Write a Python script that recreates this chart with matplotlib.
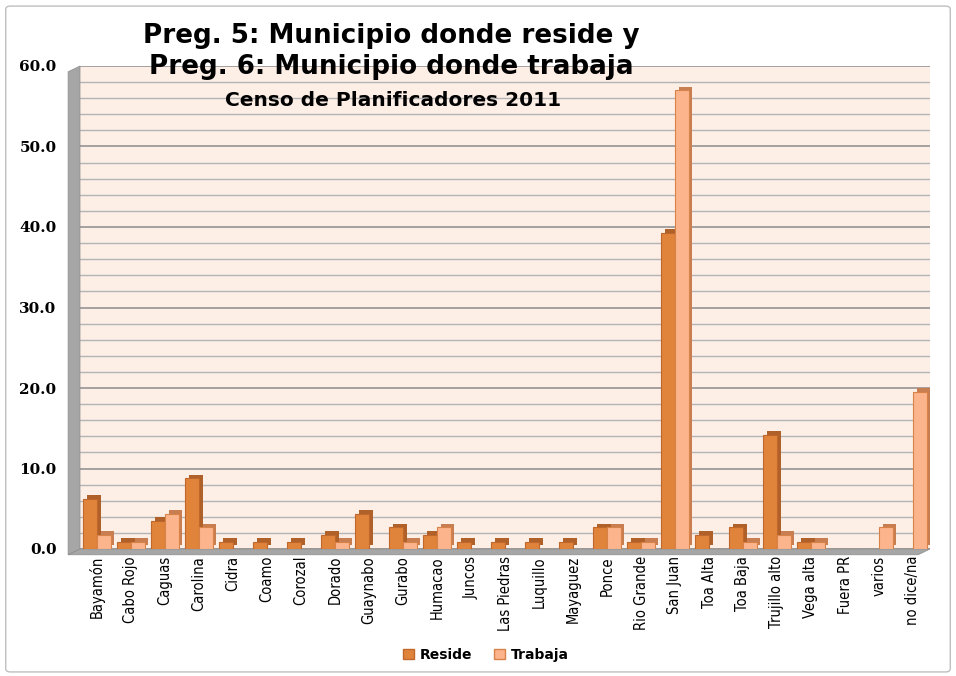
import matplotlib
matplotlib.use('Agg')
import matplotlib.pyplot as plt
from matplotlib.patches import Polygon, Patch, FancyBboxPatch
import numpy as np

# municipios (eje x)
municipios = ['Bayamón', 'Cabo Rojo', 'Caguas', 'Carolina', 'Cidra', 'Coamo',
              'Corozal', 'Dorado', 'Guaynabo', 'Gurabo', 'Humacao', 'Juncos',
              'Las Piedras', 'Luquillo', 'Mayaguez', 'Ponce', 'Rio Grande',
              'San Juan', 'Toa Alta', 'Toa Baja', 'Trujillo alto', 'Vega alta',
              'Fuera PR', 'varios', 'no dice/na']

# porcientos
reside = [6.2, 0.9, 3.5, 8.8, 0.9, 0.9, 0.9, 1.8, 4.4, 2.7, 1.8, 0.9, 0.9,
          0.9, 0.9, 2.7, 0.9, 39.3, 1.8, 2.7, 14.2, 0.9, 0.0, 0.0, 0.0]
trabaja = [1.8, 0.9, 4.4, 2.7, 0.0, 0.0, 0.0, 0.9, 0.0, 0.9, 2.7, 0.0, 0.0,
           0.0, 0.0, 2.7, 0.9, 57.0, 0.0, 0.9, 1.8, 0.9, 0.0, 2.7, 19.5]

yticks = [0, 10, 20, 30, 40, 50, 60]

fig = plt.figure(figsize=(9.56, 6.76), dpi=100)
fig.patch.set_facecolor('white')
# borde exterior
fig.patches.append(FancyBboxPatch((0.006, 0.006), 0.988, 0.985,
                                  boxstyle='round,pad=0,rounding_size=0.005',
                                  transform=fig.transFigure, fill=False,
                                  edgecolor='#BFBFBF', linewidth=1))

ax = fig.add_axes([80 / 956, 1 - 549 / 676, 850 / 956, 483 / 676])
ax.set_facecolor('#FDEEE6')

x = np.arange(len(municipios))
w = 0.4
dx, dy = 0.11, 0.45

# cara lateral (efecto 3D) y cara frontal
ax.bar(x - w / 2 + dx, reside, w, bottom=dy, color='#B0612A', zorder=2)
ax.bar(x - w / 2, reside, w, color='#E0833B', edgecolor='#C0682C',
       linewidth=0.8, zorder=3)
ax.bar(x + w / 2 + dx, trabaja, w, bottom=dy, color='#C97E52', zorder=4)
ax.bar(x + w / 2, trabaja, w, color='#FBB48C', edgecolor='#D98248',
       linewidth=0.8, zorder=5)

ax.set_xlim(-0.5, len(municipios) - 0.5)
ax.set_ylim(0, 60)
ax.set_yticks(yticks)
ax.set_yticks(np.arange(0, 61, 2), minor=True)
ax.set_yticklabels(['%.1f' % v for v in yticks], fontfamily='DejaVu Serif',
                   fontweight='bold', fontsize=11)
ax.tick_params(axis='y', which='both', length=0, pad=17)
ax.grid(axis='y', which='major', color='#8C8C8C', linewidth=1.1, zorder=0)
ax.grid(axis='y', which='minor', color='#B4B4B4', linewidth=1.0, zorder=0)
ax.set_axisbelow(True)

ax.set_xticks(x)
ax.set_xticklabels(municipios, rotation=90, fontfamily='DejaVu Sans',
                   fontstretch='condensed', fontsize=10.5)
ax.tick_params(axis='x', length=0, pad=5)

for s in ax.spines.values():
    s.set_visible(False)

# pared izquierda y piso
ax.add_patch(Polygon([(-0.014, -0.012), (0, 0), (0, 1), (-0.014, 0.988)],
                     closed=True, transform=ax.transAxes, clip_on=False,
                     facecolor='#A6A6A6', edgecolor='#8C8C8C', lw=0.5))
ax.add_patch(Polygon([(-0.014, -0.012), (0.986, -0.012), (1, 0), (0, 0)],
                     closed=True, transform=ax.transAxes, clip_on=False,
                     facecolor='#A6A6A6', edgecolor='#8C8C8C', lw=0.5))

fig.text(391 / 956, 1 - 36 / 676, 'Preg. 5: Municipio donde reside y',
         ha='center', va='center', fontsize=18.8, fontweight='bold',
         fontfamily='DejaVu Sans', zorder=10)
fig.text(391 / 956, 1 - 67 / 676, 'Preg. 6: Municipio donde trabaja',
         ha='center', va='center', fontsize=18.8, fontweight='bold',
         fontfamily='DejaVu Sans', zorder=10)
fig.text(393 / 956, 1 - 101 / 676, 'Censo de Planificadores 2011',
         ha='center', va='center', fontsize=14.5, fontweight='bold',
         fontfamily='DejaVu Sans', zorder=10)

handles = [Patch(facecolor='#E0833B', edgecolor='#C0682C', label='Reside'),
           Patch(facecolor='#FBB48C', edgecolor='#D98248', label='Trabaja')]
fig.legend(handles=handles, loc='center', ncol=2, frameon=False,
           bbox_to_anchor=(486 / 956, 1 - 655 / 676),
           prop={'family': 'DejaVu Sans', 'weight': 'bold', 'size': 10},
           handlelength=0.8, handleheight=0.8, columnspacing=1.6,
           handletextpad=0.4)

fig.savefig('out.png', dpi=100)
